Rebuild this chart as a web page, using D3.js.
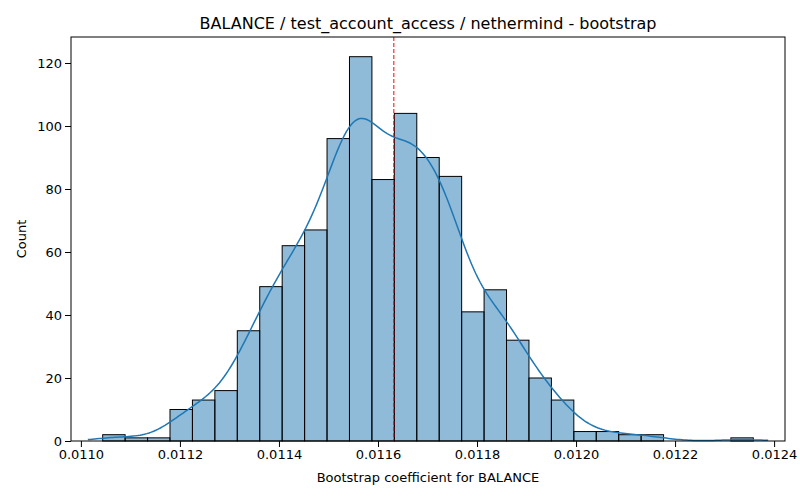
<!DOCTYPE html><html><head><meta charset="utf-8">
<script src="https://cdn.jsdelivr.net/npm/d3@7"></script>
<style>body{margin:0;background:#fff}text{font-family:"DejaVu Sans",sans-serif}</style></head><body>
<svg id="c" width="800" height="500"></svg>
<script>
const binStart = 0.011044, binEnd = 0.012358;
const counts = [2,1,1,10,13,16,35,49,62,67,96,122,83,104,90,84,41,48,32,20,13,3,3,2,2,0,0,0,1];
const xTicks = [0.0110,0.0112,0.0114,0.0116,0.0118,0.0120,0.0122,0.0124];
const yTicks = [0,20,40,60,80,100,120];
const meanLine = 0.011632;
const title = "BALANCE / test_account_access / nethermind - bootstrap";

const svg = d3.select("#c");
const L=71,R=785,T=37,B=441;
const x = d3.scaleLinear().domain([0.010980,0.012422]).range([L,R]);
const y = d3.scaleLinear().domain([0,128.25]).range([B,T]);
const bw = (binEnd-binStart)/counts.length;
const bins = counts.map((c,i)=>({x0:binStart+i*bw,x1:binStart+(i+1)*bw,c}));

svg.append("g").selectAll("rect").data(bins.filter(d=>d.c>0)).join("rect")
 .attr("x",d=>x(d.x0)).attr("width",d=>x(d.x1)-x(d.x0))
 .attr("y",d=>y(d.c)).attr("height",d=>B-y(d.c))
 .attr("fill","rgba(31,119,180,0.5)").attr("stroke","#000").attr("stroke-width",1);

// KDE from histogram
let n=0,m=0; bins.forEach(b=>{const c=(b.x0+b.x1)/2;n+=b.c;m+=b.c*c;}); m/=n;
let v=0; bins.forEach(b=>{const c=(b.x0+b.x1)/2;v+=b.c*(c-m)**2;}); v/=n;
const h=Math.sqrt(v)*Math.pow(n,-0.2);
const pts=d3.range(0,301).map(i=>{const xv=binStart-0.00003+i*(binEnd-binStart+0.00006)/300;
 let s=0; bins.forEach(b=>{const c=(b.x0+b.x1)/2;s+=b.c*Math.exp(-0.5*((xv-c)/h)**2);});
 return [xv, s/(h*Math.sqrt(2*Math.PI))*bw];});
svg.append("path").attr("d",d3.line().x(d=>x(d[0])).y(d=>y(d[1]))(pts))
 .attr("fill","none").attr("stroke","#1f77b4").attr("stroke-width",1.5);

svg.append("line").attr("x1",x(meanLine)).attr("x2",x(meanLine)).attr("y1",T).attr("y2",B)
 .attr("stroke","red").attr("stroke-dasharray","4,2").attr("stroke-width",1);

const xa=svg.append("g").attr("transform",`translate(0,${B})`)
 .call(d3.axisBottom(x).tickValues(xTicks).tickFormat(d3.format(".4f")).tickSizeOuter(0));
const ya=svg.append("g").attr("transform",`translate(${L},0)`)
 .call(d3.axisLeft(y).tickValues(yTicks).tickSizeOuter(0));
[xa,ya].forEach(a=>{a.select(".domain").remove();a.selectAll("text").attr("font-size",10*1.25*0.8+"px").attr("fill","#000");a.selectAll("line").attr("stroke","#000");});
xa.selectAll("text").attr("font-size","12.5px"); ya.selectAll("text").attr("font-size","12.5px");
ya.selectAll("text").attr("font-size","13px");xa.selectAll("text").attr("font-size","13px");
svg.append("rect").attr("x",L).attr("y",T).attr("width",R-L).attr("height",B-T)
 .attr("fill","none").attr("stroke","#000").attr("stroke-width",1);
svg.append("text").attr("x",(L+R)/2).attr("y",29).attr("text-anchor","middle").attr("font-size","16px").text(title);
svg.append("text").attr("x",(L+R)/2).attr("y",482).attr("text-anchor","middle").attr("font-size","13px").text("Bootstrap coefficient for BALANCE");
svg.append("text").attr("transform",`translate(26,${(T+B)/2}) rotate(-90)`).attr("text-anchor","middle").attr("font-size","13px").text("Count");
</script></body></html>
